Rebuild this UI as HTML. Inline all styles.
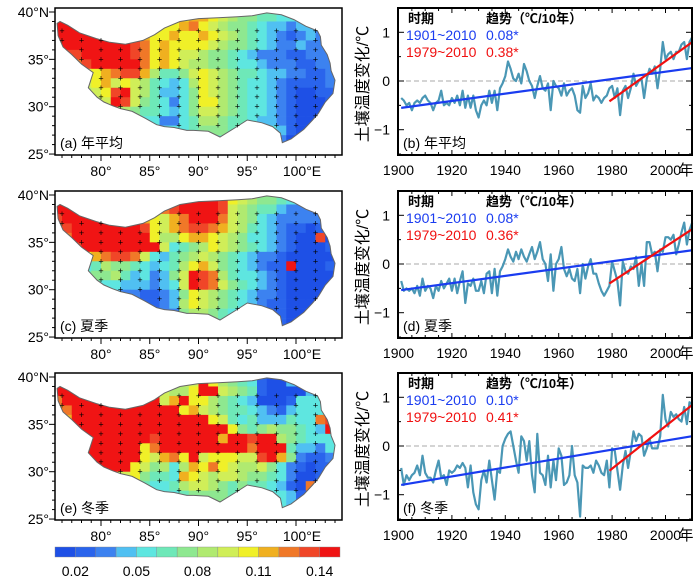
<!DOCTYPE html>
<html><head><meta charset="utf-8"><style>
html,body{margin:0;padding:0;background:#fff;}
svg{display:block;font-family:"Liberation Sans","Noto Sans CJK SC",sans-serif;}
</style></head><body>
<svg id="fig" width="700" height="582" viewBox="0 0 700 582"></svg>
<script>
// ---- data ----
const levelColors=['#1e50e6','#2a64ec','#3c82f0','#50c0f2','#5ee6e0','#6ee8b8','#8ee890','#b0ea70','#d0ee58','#f0f028','#f0b020','#f07828','#f04628','#f01414'];
const colorbarLabels=['0.02','0.05','0.08','0.11','0.14'];
const colorbarLabelIdx=[1,4,7,10,13];
const mapLonTicks=[80,85,90,95,100];
const mapLatTicks=[25,30,35,40];
const gridAnnual=["dddcccba999999aa9876655444333","ddddddcba9999ab98766543323333","dddddddcba99a99a9876543212322","cdddddddcb9a99998766543223221","bccdddddcb9a98876654322211222","aabcdddddb9a98776654432221122","77889abcca7556898765543322112","66789a89875434798765443211112","556789cd875334698765443210011","555678dc865424699765443210001","44455677655434688765443210001","44445555444224577655433210011","44444444444444566655444310011","44444444444444555555444200011"];
const gridSummer=["dddcccba99acdddddc987665443322","ddddddcba9abcddddc87655322222","cddddddcba98abdddb87643222221","bcdddddddc98abccba87543211011","9bdddddddd9779aa9876443210 0c0","78cdddddddd845679876543210001 0","6789abccb8435678765432210000 01","443457665434579a86543211d0001","334566753423 68dcb754432100000","33355443332348dcb865432100000","22233332211236987654322100000","11122221111237987654321100000","11111111111226776544321100000","11111111111226776544321100000"].map(s=>s.replace(/ /g,'').padEnd(29,'0').slice(0,29));
const gridWinter=["ddddddddc987788d976541003333","ddddddddddd8779dd8765100003444","bdddddddddd8ad9976543000144 44","abddddddddddd9a876554321344 44","9adddddddddddddd9854533 3544bc","89dddddddddddddddd9656766543dd","7addddddddcddddddaddcdd76544","6addddddd9bdddddddddbddd5332","57ddddddd98ab9d899988cda62112","5667dddd986747a9b98778642101 1","455677889 6554a98788766542001 1","444566667544578876565543 10b11","44445555544445666655544431001 1","44445555544445666655544431001 1"].map(s=>s.replace(/ /g,'').padEnd(29,'4').slice(0,29));
const years=[];for(let y=1901;y<=2010;y++)years.push(y);
const seriesAnnual=[-0.35,-0.4,-0.5,-0.45,-0.6,-0.45,-0.4,-0.45,-0.35,-0.3,-0.4,-0.45,-0.6,-0.45,-0.4,-0.2,-0.5,-0.45,-0.5,-0.35,-0.45,-0.3,-0.5,-0.2,-0.55,-0.3,-0.55,-0.3,-0.6,-0.75,-0.5,-0.4,-0.5,-0.2,-0.45,-0.2,-0.6,-0.15,-0.05,0.1,0.4,0.25,0.05,0.0,0.15,-0.05,0.35,0.2,0.0,-0.1,-0.35,-0.1,0.1,-0.15,-0.2,-0.05,-0.6,0.0,-0.1,-0.15,-0.3,-0.05,-0.3,-0.2,-0.15,-0.3,-0.6,-0.65,-0.1,-0.35,-0.25,-0.05,-0.4,-0.3,-0.35,-0.45,-0.35,-0.3,-0.15,-0.1,-0.35,-0.15,-0.7,-0.2,-0.1,-0.35,-0.15,0.15,-0.1,0.0,0.05,-0.35,0.05,0.25,0.15,0.3,-0.15,0.25,0.8,0.45,0.55,0.6,0.45,0.6,0.6,0.75,0.8,0.45,0.8,0.9];
const seriesSummer=[-0.35,-0.55,-0.5,-0.55,-0.5,-0.6,-0.45,-0.65,-0.3,-0.55,-0.45,-0.5,-0.7,-0.45,-0.55,-0.35,-0.5,-0.4,-0.3,-0.55,-0.3,-0.6,-0.35,-0.15,-0.8,-0.4,-0.45,-0.3,-0.55,-0.55,-0.35,-0.6,-0.2,-0.15,-0.6,-0.1,-0.65,-0.15,-0.05,0.1,0.3,0.15,0.05,0.25,0.1,0.3,0.15,0.05,0.2,0.35,0.1,0.25,0.45,0.1,0.0,-0.35,0.2,-0.55,0.0,0.1,0.35,-0.1,-0.25,-0.1,-0.3,-0.35,-0.1,-0.6,0.0,-0.3,-0.05,0.1,-0.2,-0.2,-0.4,-0.55,-0.65,-0.55,-0.45,0.05,-0.15,-0.35,-0.85,0.05,-0.15,-0.2,-0.05,-0.1,0.15,-0.45,0.0,-0.45,0.45,0.45,0.2,0.25,-0.15,0.3,0.25,0.55,0.55,0.5,0.6,0.2,0.4,0.65,0.85,0.4,0.7,0.85];
const seriesWinter=[-0.45,-0.8,-0.6,-0.7,-0.6,-0.55,-0.4,-0.6,-0.2,-0.55,-0.65,-0.65,-0.75,-0.5,-0.3,-0.65,-0.6,-0.8,-0.5,-0.55,-0.5,-0.4,-0.45,-0.35,-0.45,-0.85,-0.4,-0.95,-1.2,-1.3,-0.7,-0.5,-0.75,-0.3,-0.7,-1.1,-0.5,-0.55,0.0,0.15,0.25,0.3,0.0,-0.3,-0.55,0.2,0.1,-0.3,0.1,-0.6,-0.95,0.25,-0.55,-0.6,-0.8,-0.2,-0.85,-0.3,-0.7,-0.05,-0.2,-0.8,-0.75,-0.6,0.0,-0.6,-0.75,-1.45,-0.4,-0.45,-0.45,-0.4,-0.55,-0.3,-0.4,-0.55,-0.6,-0.3,-0.85,-0.05,-0.1,-0.5,-0.9,-0.4,-0.1,-0.45,-0.1,0.3,0.1,0.25,0.2,-0.2,-0.05,0.15,-0.05,-0.05,-0.05,0.2,1.05,0.55,0.4,0.7,0.6,0.65,0.55,0.5,0.8,0.45,0.9,0.85];
const trendLong=['0.08*','0.08*','0.10*'];
const trendRecent=['0.38*','0.36*','0.41*'];
const xTickYears=[1900,1920,1940,1960,1980,2000];
const yTicks=[-1,0,1];
const outline=[[75.8,39.0],[76.6,38.6],[77.8,37.8],[79.5,37.2],[80.9,36.8],[82.5,36.6],[84.3,37.0],[85.5,37.6],[86.5,38.3],[88.1,39.0],[90,39.3],[92,39.4],[94,39.5],[95.5,39.6],[97,39.9],[98.5,39.7],[99.8,39.2],[101,38.5],[102.2,38.0],[102.5,37.4],[102.6,36.5],[103.2,35.5],[103.5,34.6],[103.6,33.8],[104,32.8],[103.8,31.4],[103,30.5],[102.3,29.3],[101.7,28.6],[100.8,27.6],[99.5,26.6],[98.6,26.2],[98.4,27.2],[97.6,27.9],[96.5,28.3],[95,28.6],[93.8,27.8],[92.2,26.8],[91,27.4],[89.5,27.5],[88.8,27.5],[87.5,27.8],[86.5,27.9],[85.7,28.1],[84.5,28.8],[83.2,29.5],[82,29.8],[81.2,30.1],[80.3,30.5],[79.6,31.0],[78.7,32.0],[79.2,33.6],[78.0,34.5],[77,35.5],[76.1,36.3],[75.6,37.5],[75.5,38.8]];

const NS='http://www.w3.org/2000/svg';
const svg=document.getElementById('fig');
function mk(tag,attrs,parent){const e=document.createElementNS(NS,tag);for(const k in attrs)e.setAttribute(k,attrs[k]);(parent||svg).appendChild(e);return e;}
function inPoly(x,y){let c=false;for(let i=0,j=outline.length-1;i<outline.length;j=i++){const[xi,yi]=outline[i],[xj,yj]=outline[j];if(((yi>y)!=(yj>y))&&(x<(xj-xi)*(y-yi)/(yj-yi)+xi))c=!c;}return c;}

const panelOff=[0,183,365];
const grids=[gridAnnual,gridSummer,gridWinter];
const mapLabels=['(a) 年平均','(c) 夏季','(e) 冬季'];
const tsLabels=['(b) 年平均','(d) 夏季','(f) 冬季'];
const series=[seriesAnnual,seriesSummer,seriesWinter];
const mapNames=['annual','summer','winter'];

for(let p=0;p<3;p++){
  const o=panelOff[p];
  const lx=lon=>101+(lon-80)*9.75;
  const ly=lat=>12+o+(40-lat)*9.47;
  const g=mk('g',{});
  
  
  const cp=mk('clipPath',{id:'clip'+p},g);
  const polyPts=outline.map(([a,b])=>lx(a).toFixed(1)+','+ly(b).toFixed(1)).join(' ');
  mk('polygon',{points:polyPts},cp);
  const cells=mk('g',{'clip-path':'url(#clip'+p+')'},g);
  
  
  const grid=grids[p];
  for(let r=0;r<grid.length;r++){
    for(let c=0;c<29;c++){
      const lv=parseInt(grid[r][c],16);
      if(isNaN(lv))continue;
      const lon=75+c, lat=40-r;
      const rc=mk('rect',{x:lx(lon),y:ly(lat),width:9.75+0.3,height:9.47+0.3,fill:levelColors[Math.min(lv,13)]},cells);
      
      
    }
  }
  const ol=mk('polygon',{points:polyPts,fill:'none',stroke:'#666','stroke-width':1},g);
  
  
  for(let lon=76;lon<=102;lon+=2){for(let lat=28;lat<=38;lat++){
    if(!inPoly(lon,lat))continue;
    const t=mk('text',{x:lx(lon),y:ly(lat)+3,'font-size':9,'text-anchor':'middle',fill:'#000'},g);
    t.textContent='+';
    
    
  }}
  const fr=mk('rect',{x:55,y:8+o,width:287,height:147,fill:'none',stroke:'#000','stroke-width':1.5},g);
  
  
  for(let lat=25;lat<=40;lat++){const maj=lat%5==0;mk('line',{x1:55,x2:maj?49:52,y1:ly(lat),y2:ly(lat),stroke:'#000','stroke-width':1},g);}
  for(let lon=76;lon<=104;lon++){const maj=lon%5==0;mk('line',{x1:lx(lon),x2:lx(lon),y1:155+o,y2:155+o+(maj?6:3),stroke:'#000','stroke-width':1},g);}
  mapLatTicks.forEach(lat=>{const t=mk('text',{x:49,y:ly(lat)+5,'font-size':14,'text-anchor':'end'},g);t.textContent=lat+'°'+(lat==40?'N':'');});
  mapLonTicks.forEach(lon=>{const t=mk('text',{x:lx(lon)+(lon==100?6:0),y:176+o,'font-size':14,'text-anchor':'middle'},g);t.textContent=lon+'°'+(lon==100?'E':'');});
  const ml=mk('text',{x:60,y:148+o,'font-size':14},g);ml.textContent=mapLabels[p];
  
  

  // ---- time series ----
  const tx=yr=>398.5+(yr-1900)*2.67;
  const ty=v=>81+o-v*48.7;
  const tg=mk('g',{});
  
  
  const zl=mk('line',{x1:398,x2:692,y1:ty(0),y2:ty(0),stroke:'#aaa','stroke-dasharray':'5,3','stroke-width':1},tg);
  
  
  const s=series[p];
  const ln=mk('polyline',{points:s.map((v,i)=>tx(years[i]).toFixed(1)+','+ty(v).toFixed(1)).join(' '),fill:'none',stroke:'#4a97b5','stroke-width':2.2,'stroke-linejoin':'round'},tg);
  
  
  function fit(y0,y1){const xs=[],ys=[];years.forEach((y,i)=>{if(y>=y0&&y<=y1){xs.push(y);ys.push(s[i]);}});const n=xs.length,mx=xs.reduce((a,b)=>a+b)/n,my=ys.reduce((a,b)=>a+b)/n;let sxy=0,sxx=0;for(let i=0;i<n;i++){sxy+=(xs[i]-mx)*(ys[i]-my);sxx+=(xs[i]-mx)**2;}const b=sxy/sxx;return y=>my+b*(y-mx);}
  const f1=fit(1901,2010),f2=fit(1979,2010);
  const bl=mk('line',{x1:tx(1901),y1:ty(f1(1901)),x2:tx(2010),y2:ty(f1(2010)),stroke:'#1a3cf0','stroke-width':2.2},tg);
  
  
  const rl=mk('line',{x1:tx(1979),y1:ty(f2(1979)),x2:tx(2010),y2:ty(f2(2010)),stroke:'#f01010','stroke-width':2.2},tg);
  
  
  const tf=mk('rect',{x:398,y:8+o,width:294,height:147,fill:'none',stroke:'#000','stroke-width':2},tg);
  
  
  for(let v=-1.5;v<=1.5;v+=0.5){const yy=ty(v);if(yy<8+o||yy>155+o)continue;const maj=Number.isInteger(v);mk('line',{x1:398,x2:398+(maj?6:3),y1:yy,y2:yy,stroke:'#000'},tg);mk('line',{x1:692,x2:692-(maj?6:3),y1:yy,y2:yy,stroke:'#000'},tg);}
  for(let yr=1900;yr<=2010;yr+=5){const maj=yr%20==0;mk('line',{x1:tx(yr),x2:tx(yr),y1:155+o,y2:155+o-(maj?5:3),stroke:'#000'},tg);mk('line',{x1:tx(yr),x2:tx(yr),y1:8+o,y2:8+o+(maj?5:3),stroke:'#000'},tg);}
  yTicks.forEach(v=>{const t=mk('text',{x:390,y:ty(v)+5,'font-size':14,'text-anchor':'end'},tg);t.textContent=v<0?'−1':String(v);});
  xTickYears.forEach(yr=>{const t=mk('text',{x:tx(yr),y:175+o,'font-size':14,'text-anchor':'middle'},tg);t.textContent=String(yr);});
  const yu=mk('text',{x:686,y:175+o,'font-size':15,'text-anchor':'middle'},tg);yu.textContent='年';
  
  
  const yt=mk('text',{x:0,y:0,'font-size':16,'text-anchor':'middle',transform:'translate(368,'+(84+o)+') rotate(-90)'},tg);yt.textContent='土壤温度变化/℃';
  
  
  const h1=mk('text',{x:408,y:23+o,'font-size':13,'font-weight':'bold'},tg);h1.textContent='时期';
  
  
  const h2=mk('text',{x:486,y:23+o,'font-size':13,'font-weight':'bold'},tg);h2.textContent='趋势（℃/10年）';
  
  
  const a1=mk('text',{x:406,y:40+o,'font-size':14,fill:'#1a3cf0'},tg);a1.textContent='1901~2010';
  
  
  const a2=mk('text',{x:486,y:40+o,'font-size':14,fill:'#1a3cf0'},tg);a2.textContent=trendLong[p];
  
  
  const b1=mk('text',{x:406,y:57+o,'font-size':14,fill:'#f01010'},tg);b1.textContent='1979~2010';
  
  
  const b2=mk('text',{x:486,y:57+o,'font-size':14,fill:'#f01010'},tg);b2.textContent=trendRecent[p];
  
  
  const pl=mk('text',{x:403,y:148+o,'font-size':14},tg);pl.textContent=tsLabels[p];
  
  
}
const cb=mk('g',{});


const cbw=285/14;
levelColors.forEach((c,i)=>{const r=mk('rect',{x:55+i*cbw,y:547,width:cbw,height:10,fill:c,stroke:'#888','stroke-width':0.4},cb);});
colorbarLabels.forEach((l,i)=>{const t=mk('text',{x:55+colorbarLabelIdx[i]*cbw,y:576,'font-size':14,'text-anchor':'middle'},cb);t.textContent=l;});
</script>
</body></html>
